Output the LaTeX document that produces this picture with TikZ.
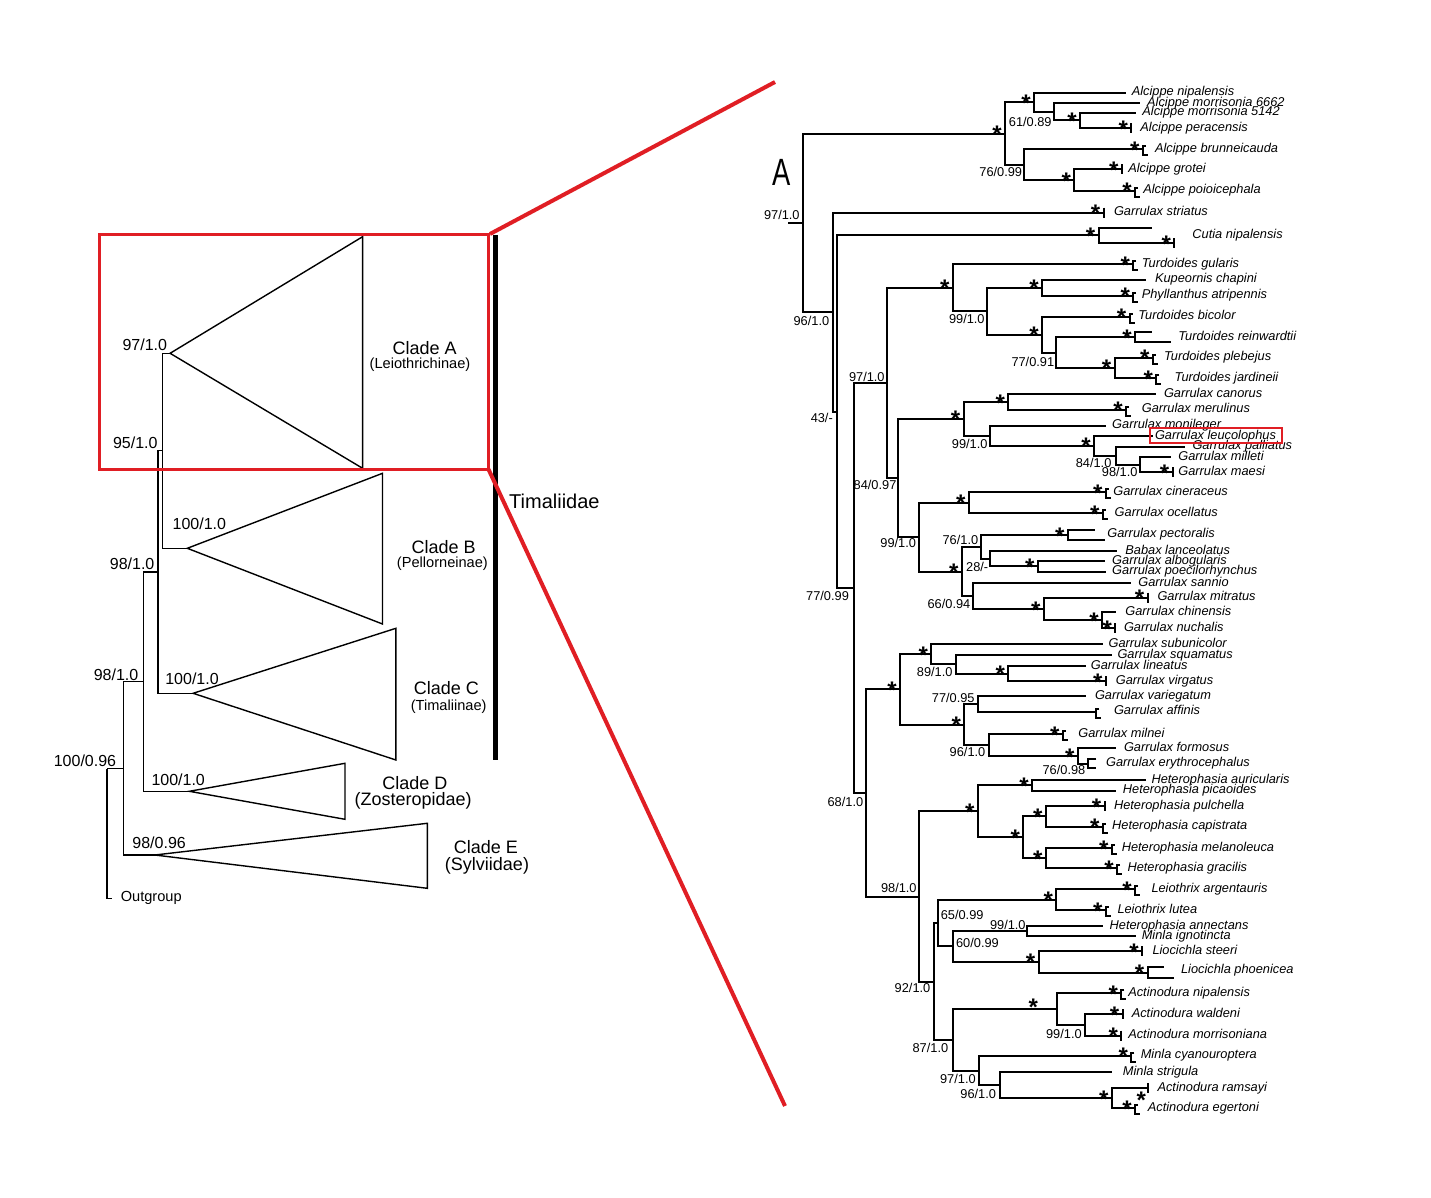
\documentclass[tikz,border=0pt]{standalone}
\usepackage{fontspec}
\setmainfont{Liberation Sans}
\definecolor{zoomred}{RGB}{224,30,36}

\begin{document}
\begin{tikzpicture}[x=0.5pt,y=-0.5pt,
	branch/.style={line width=1pt},
	lbranch/.style={line width=0.7pt},
	tip/.style={font=\fontsize{6.4}{7}\selectfont\itshape,inner sep=0pt,anchor=base west},
	bs/.style={font=\fontsize{6.4}{7}\selectfont,inner sep=0pt,anchor=east},
	lbs/.style={font=\fontsize{8}{9}\selectfont,inner sep=0pt,anchor=east},
	sig/.style={font=\fontsize{12}{12}\selectfont\bfseries,inner sep=0pt,anchor=base},
	clade/.style={font=\fontsize{9}{10}\selectfont,inner sep=0pt},
	subclade/.style={font=\fontsize{7.3}{8}\selectfont,inner sep=0pt},
	zoombox/.style={draw=zoomred,line width=1.5pt}]
	\useasboundingbox (0,0) rectangle (1431,1198);

	\coordinate (L0) at (107,768.5);
	\coordinate (L100) at (123.4,768.5);
	\coordinate (L98b) at (143.3,681.7);
	\coordinate (L98a) at (157.9,572);
	\coordinate (L95) at (162.5,450.8);
	\coordinate (aA) at (170.1,353.3);
	\coordinate (aB) at (187.3,548.3);
	\coordinate (aC) at (193.1,693.3);
	\coordinate (aD) at (189.3,791.3);
	\coordinate (aE) at (154.8,855);
	\coordinate (og) at (112,898.3);
	\foreach \p/\c in {L0/L100,L0/og,L100/L98b,L100/aE,L98b/L98a,L98b/aD,L98a/L95,L98a/aC,L95/aA,L95/aB}
		\draw[lbranch] (\p) |- (\c);
	\draw[lbranch] (aA) -- (362.6,236.7) -- (362.6,468.3) -- cycle;
	\draw[lbranch] (aB) -- (382.5,473.3) -- (382.5,624) -- cycle;
	\draw[lbranch] (aC) -- (395.9,628.3) -- (395.9,760) -- cycle;
	\draw[lbranch] (aD) -- (345,763.3) -- (345,819.3) -- cycle;
	\draw[lbranch] (aE) -- (427.3,823.3) -- (427.3,888.3) -- cycle;

	\foreach \x/\y/\t [count=\i] in {167.4/345/{97/1.0},157.9/442.7/{95/1.0},226.4/523.3/{100/1.0},154.8/563.3/{98/1.0},138.7/675/{98/1.0},219.1/678.3/{100/1.0},116.5/761/{100/0.96},205.3/779.3/{100/1.0},186.2/842.7/{98/0.96}}
		\node[lbs] (lb\i) at (\x,\y) {\t};
	\node[subclade,anchor=west] (outg) at (120.4,898.3) {Outgroup};

	\node[clade] (cA) at (424.6,347.7) {Clade A};
	\node[subclade] (cAs) at (420,364.3) {(Leiothrichinae)};
	\node[clade] (cB) at (443.7,546.7) {Clade B};
	\node[subclade] (cBs) at (442.4,563.3) {(Pellorneinae)};
	\node[clade] (cC) at (446.4,687.7) {Clade C};
	\node[subclade] (cCs) at (448.7,706.7) {(Timaliinae)};
	\node[clade] (cD) at (415,782.7) {Clade D};
	\node[clade] (cDs) at (413.1,800.7) {(Zosteropidae)};
	\node[clade] (cE) at (485.8,847.3) {Clade E};
	\node[clade] (cEs) at (487,866) {(Sylviidae)};

	\coordinate (timT) at (495.4,235);
	\coordinate (timB) at (495.4,760);
	\draw[line width=2.5pt] (timT) -- (timB);
	\node[font=\fontsize{10}{11}\selectfont,inner sep=0pt,anchor=west] (tim) at (508.8,501) {Timaliidae};

	\node[font=\fontsize{19}{19}\selectfont,inner sep=0pt] (hdA) at (781.5,172) {\scalebox{0.72}[1]{A}};

	\foreach \n/\x/\y in {nroot/803/223,nAlc/1005/133.6,nA1/1034/102.3,n61/1053.6/111.9,n5142/1080/120.5,n76/1023.6/164.8,ngro/1074.3/180.2,
		n96/833/312.3,n43/837/411.8,ncut/1098.6/235.5,n77/853.6/588,n97/886.8/383,nTur/952.9/287.8,n99a/986.8/311.3,nkup/1042/287.9,
		nbic/1042/334.7,n77b/1056.4/352.7,nrein/1135/337.3,nple/1114.6/368,n84/897.5/478.1,ngc/963.6/419,ncan/1008.2/402.2,
		n99c/990.4/435.9,nleu/1094/446,n84c/1116.4/455.9,n98c/1139.6/464.7,n99b/919/537.2,ncin/968.9/502.8,ns2/961.8/571.6,
		n76b/981.4/546.9,npec/1067.9/535,n28/990.4/558.7,nalb/1037.9/566.4,n66/972.5/596.2,nmit/1043.9/609,nchi/1102.1/620.3,
		n68/866.4/793,ns3/900/689.4,ngs/931.4/654.2,n89/955.7/664.3,nlin/1008.2/673.5,ns4/964.3/724.6,n77c/977.9/703.9,
		n96b/988.6/745.2,nfor/1077.9/756.1,n98/919/896.5,nhet/977.9/811.4,naur/1032.1/785.4,nh2/1023.2/837.4,npul/1045.7/816.4,
		nmel/1045.7/858.3,n92/934.3/981.5,n65/937.5/923.1,nleio/1056.4/899.7,n60/952.9/946.4,n99d/1027.1/931,nlio/1038.6/961.8,
		nphoe/1147.5/972.5,n87/952.9/1039.9,nact/1057.1/1009.2,n99e/1085/1025,n97b/978.6/1070.5,n96c/1000/1085.3,nram/1111.8/1098.3,
		c1/1151.8/227.7,c2/1174.3/243.3,r1/1151.8/332.3,r2/1170.7/342.3,p1/1095/530,p2/1104.6/540,ph1/1163.6/967.3,ph2/1174.3/977.7,r0/788/223}
		\coordinate (\n) at (\x,\y);

	\foreach \n/\x/\y/\lx/\t in {t1/1126/92.7/1131.4/Alcippe nipalensis,t2/1140/103.3/1146.8/Alcippe morrisonia 6662,
		t3/1135.7/112.7/1142/Alcippe morrisonia 5142,t4/1131.4/128.3/1140/Alcippe peracensis,t5/1142.9/149.3/1154.6/Alcippe brunneicauda,
		t6/1121.8/169.3/1127.9/Alcippe grotei,t7/1135/191/1142.9/Alcippe poioicephala,t8/1103.6/212.7/1113.6/Garrulax striatus,
		t10/1133.2/264.3/1141.4/Turdoides gularis,t11/1145.7/280/1154.6/Kupeornis chapini,t12/1133.2/295.7/1141.4/Phyllanthus atripennis,
		t13/1129.6/316.7/1137.9/Turdoides bicolor,t15/1152.9/357.7/1163.6/Turdoides plebejus,t16/1156.4/378.3/1174.3/Turdoides jardineii,
		t17/1156.4/394.3/1163.6/Garrulax canorus,t18/1126/410/1141.4/Garrulax merulinus,t19/1105.7/425.7/1111.8/Garrulax monileger,
		t20/1152.9/436/1154.6/Garrulax leucolophus,t21/1185/447/1192.1/Garrulax palliatus,t22/1170.7/457/1177.9/Garrulax milleti,
		t23/1172.5/472.3/1177.9/Garrulax maesi,t24/1105.7/492.3/1112.9/Garrulax cineraceus,t25/1102.9/513.3/1114.3/Garrulax ocellatus,
		t27/1117/551/1125/Babax lanceolatus,t28/1104.6/561/1111.8/Garrulax albogularis,t29/1106.4/571.7/1111.8/Garrulax poecilorhynchus,
		t30/1131.4/583.3/1137.9/Garrulax sannio,t31/1147.5/597.7/1157.1/Garrulax mitratus,t32/1116.4/612.3/1125/Garrulax chinensis,
		t33/1115.4/628.3/1123.6/Garrulax nuchalis,t34/1102.9/644/1108.2/Garrulax subunicolor,t35/1111.8/655/1117.1/Garrulax squamatus,
		t36/1085.7/666/1090.4/Garrulax lineatus,t37/1105.7/681/1115.4/Garrulax virgatus,t38/1085.7/696/1094.6/Garrulax variegatum,
		t39/1096.4/711.7/1113.6/Garrulax affinis,t40/1062.9/734.3/1077.9/Garrulax milnei,t41/1116.4/748.3/1123.6/Garrulax formosus,
		t42/1087.9/763.8/1105.7/Garrulax erythrocephalus,t43/1145.7/780/1151.1/Heterophasia auricularis,
		t44/1116.4/790.7/1122.5/Heterophasia picaoides,t45/1104.6/806/1113.6/Heterophasia pulchella,
		t46/1102.9/826.7/1111.8/Heterophasia capistrata,t47/1111.8/848.3/1121.4/Heterophasia melanoleuca,
		t48/1117.1/868.3/1127.1/Heterophasia gracilis,t49/1135/889.3/1151.1/Leiothrix argentauris,t50/1105.7/910/1117.1/Leiothrix lutea,
		t51/1102.9/926/1109.3/Heterophasia annectans,t52/1135.7/936/1141.4/Minla ignotincta,t53/1142.1/951/1152.1/Liocichla steeri,
		t55/1121.4/993.3/1127.9/Actinodura nipalensis,t56/1122.5/1014.3/1131.4/Actinodura waldeni,
		t57/1121.4/1035.7/1127.9/Actinodura morrisoniana,t58/1131.4/1055.7/1140.4/Minla cyanouroptera,
		t59/1111.8/1072.3/1122.5/Minla strigula,t60/1147.5/1088.3/1157.1/Actinodura ramsayi,t61/1135/1108.3/1147.5/Actinodura egertoni}
	{
		\coordinate (\n) at (\x,\y);
		\node[tip] (l\n) at (\lx,\y+3) {\t};
	}
	\node[tip] (lcut) at (1192,238.5) {Cutia nipalensis};
	\node[tip] (lrein) at (1177.9,340.3) {Turdoides reinwardtii};
	\node[tip] (lpec) at (1107,537.3) {Garrulax pectoralis};
	\node[tip] (lphoe) at (1180.7,973.7) {Liocichla phoenicea};

	\draw[branch] (r0) -- (nroot);
	\foreach \p/\c in {nroot/nAlc,nroot/n96,nAlc/nA1,nAlc/n76,nA1/t1,nA1/n61,n61/t2,n61/n5142,n5142/t3,n5142/t4,n76/t5,n76/ngro,
		ngro/t6,ngro/t7,n96/t8,n96/n43,n43/ncut,n43/n77,ncut/c1,ncut/c2,n77/n97,n77/n68,n97/nTur,n97/n84,nTur/t10,nTur/n99a,
		n99a/nkup,n99a/nbic,nkup/t11,nkup/t12,nbic/t13,nbic/n77b,n77b/nrein,n77b/nple,nrein/r1,nrein/r2,nple/t15,nple/t16,
		n84/ngc,n84/n99b,ngc/ncan,ngc/n99c,ncan/t17,ncan/t18,n99c/t19,n99c/nleu,nleu/t20,nleu/n84c,n84c/t21,n84c/n98c,
		n98c/t22,n98c/t23,n99b/ncin,n99b/ns2,ncin/t24,ncin/t25,ns2/n76b,ns2/n66,n76b/npec,n76b/n28,npec/p1,npec/p2,
		n28/t27,n28/nalb,nalb/t28,nalb/t29,n66/t30,n66/nmit,nmit/t31,nmit/nchi,nchi/t32,nchi/t33,n68/ns3,n68/n98,
		ns3/ngs,ns3/ns4,ngs/t34,ngs/n89,n89/t35,n89/nlin,nlin/t36,nlin/t37,ns4/n77c,ns4/n96b,n77c/t38,n77c/t39,
		n96b/t40,n96b/nfor,nfor/t41,nfor/t42,n98/nhet,n98/n92,nhet/naur,nhet/nh2,naur/t43,naur/t44,nh2/npul,nh2/nmel,
		npul/t45,npul/t46,nmel/t47,nmel/t48,n92/n65,n92/n87,n65/nleio,n65/n60,nleio/t49,nleio/t50,n60/n99d,n60/nlio,
		n99d/t51,n99d/t52,nlio/t53,nlio/nphoe,nphoe/ph1,nphoe/ph2,n87/nact,n87/n97b,nact/t55,nact/n99e,n99e/t56,n99e/t57,
		n97b/t58,n97b/n96c,n96c/t59,n96c/nram,nram/t60,nram/t61}
		\draw[branch] (\p) |- (\c);

	\foreach \n in {t4,t6,t8,c2,t23,t31,t33,t37,t45,t53,t56,t57,t60}
		\draw[branch] ([shift={(0,-5)}]\n) -- ([shift={(0,5)}]\n);
	\foreach \n in {t5,t7,t10,t12,t13,t15,t16,t18,t24,t25,t39,t40,t46,t47,t48,t49,t50,t55,t58,t61}
		\draw[branch] ([shift={(3,-3)}]\n) -- ([shift={(0,-3)}]\n) -- ([shift={(0,6)}]\n) -- ([shift={(5,6)}]\n);
	\draw[branch] ([shift={(8.5,-4.5)}]t42) -- ([shift={(0,-4.5)}]t42) -- ([shift={(0,4.5)}]t42) -- ([shift={(8.5,4.5)}]t42);

	\foreach \n in {nA1,n5142,ngro,nAlc,ncut,c2,nTur,nkup,nbic,nrein,nple,ncan,nleu,ngc,ncin,npec,nalb,nmit,nchi,ns2,nlin,ngs,ns3,ns4,
		nfor,naur,npul,nmel,nh2,nhet,nleio,nlio,nphoe,nram,t4,t5,t6,t7,t8,t10,t12,t13,t15,t16,t18,t23,t24,t25,t31,t33,t37,t40,
		t45,t46,t47,t48,t49,t50,t53,t55,t56,t57,t58,t61}
		\node[sig] (s\n) at ([shift={(-8,9)}]\n) {*};
	\node[sig] (snact) at (1033.2,1015.5) {*};
	\node[sig] (st60) at (1141.4,1108.1) {*};

	\foreach \x/\y/\t [count=\i] in {800/215/{97/1.0},1052/121.7/{61/0.89},1022.5/171.7/{76/0.99},829.6/321/{96/1.0},833.2/418.3/{43/-},
		885/376.7/{97/1.0},985/319/{99/1.0},1054.6/362.3/{77/0.91},987.9/444.3/{99/1.0},1111.8/463.3/{84/1.0},1137.9/472.3/{98/1.0},
		896.8/485/{84/0.97},916.4/543.3/{99/1.0},849.3/595.7/{77/0.99},978.6/540/{76/1.0},988.6/566.7/{28/-},970.7/604.3/{66/0.94},
		952.9/671.7/{89/1.0},975/698.3/{77/0.95},985.7/751.7/{96/1.0},1085.7/770/{76/0.98},863.6/801.7/{68/1.0},917/888.3/{98/1.0},
		1026/925/{99/1.0},930.7/988.3/{92/1.0},948.6/1048.3/{87/1.0},1082.1/1034.3/{99/1.0},976.1/1079.3/{97/1.0},996.4/1094.3/{96/1.0}}
		\node[bs] (bs\i) at (\x,\y) {\t};
	\node[bs,anchor=west] (bs65) at (940.4,915) {65/0.99};
	\node[bs,anchor=west] (bs60) at (955.7,943.3) {60/0.99};

	\draw[zoomred,line width=1pt] (1150,427.7) rectangle (1282,443.3);
	\coordinate (zoomTL) at (99.3,235);
	\coordinate (zoomBR) at (488.5,469.3);
	\coordinate (zoomTR) at (490,234);
	\coordinate (farT) at (775,82);
	\coordinate (farB) at (785,1106);
	\draw[zoombox] (zoomTL) rectangle (zoomBR);
	\draw[zoomred,line width=2pt] (zoomTR) -- (farT);
	\draw[zoomred,line width=2pt] (zoomBR) -- (farB);
\end{tikzpicture}
\end{document}
